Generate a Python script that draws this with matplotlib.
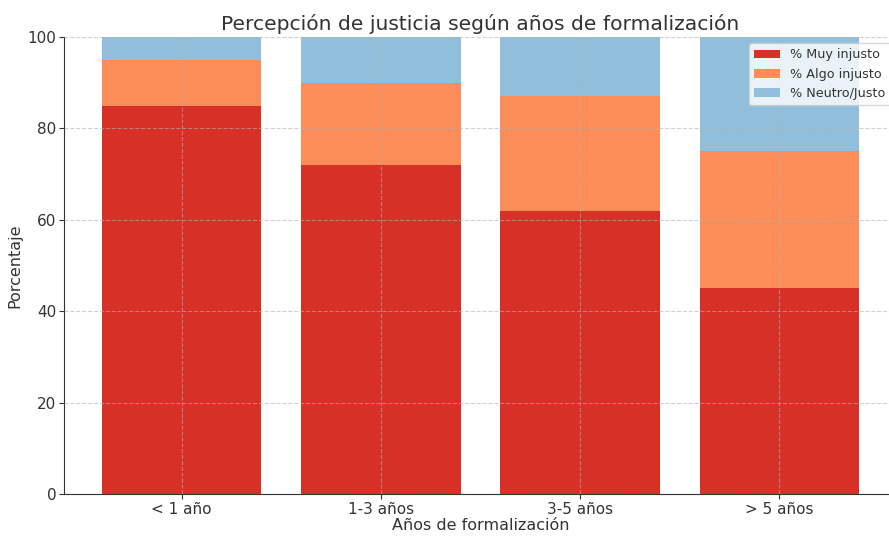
import numpy as np
import matplotlib.pyplot as plt

plt.rcParams['font.family'] = 'DejaVu Sans'

categories = ['< 1 año', '1-3 años', '3-5 años', '> 5 años']
muy_injusto = [85, 72, 62, 45]
algo_injusto = [10, 18, 25, 30]
neutro_justo = [5, 10, 13, 25]

COLORS = ['#d73027', '#fc8d59', '#91bfdb']
TEXT = '#333333'

fig = plt.figure(figsize=(8.89, 5.36), dpi=100)
ax = fig.add_axes([0.072, 0.078, 0.937, 0.853])

x = np.arange(len(categories))
bottom2 = np.array(muy_injusto)
bottom3 = bottom2 + np.array(algo_injusto)
ax.bar(x, muy_injusto, width=0.8, color=COLORS[0], label='% Muy injusto')
ax.bar(x, algo_injusto, width=0.8, bottom=bottom2, color=COLORS[1], label='% Algo injusto')
ax.bar(x, neutro_justo, width=0.8, bottom=bottom3, color=COLORS[2], label='% Neutro/Justo')

ax.set_xticks(x)
ax.set_xticklabels(categories)
ax.set_ylim(0, 100)
ax.set_xlim(-0.59, 3.59)

ax.grid(True, linestyle='--', color='#b0b0b0', alpha=0.6, linewidth=0.8)
ax.set_axisbelow(False)

for s in ['top', 'right']:
    ax.spines[s].set_visible(False)
for s in ['left', 'bottom']:
    ax.spines[s].set_color(TEXT)
ax.tick_params(colors=TEXT, labelsize=11, length=3.5, pad=2)

ax.set_title('Percepción de justicia según años de formalización', fontsize=14.6, color=TEXT, pad=5)
ax.set_xlabel('Años de formalización', fontsize=11.5, color=TEXT, labelpad=1)
ax.set_ylabel('Porcentaje', fontsize=11.5, color=TEXT, labelpad=4)

leg = ax.legend(loc='upper right', fontsize=9.2, framealpha=0.8)
for t in leg.get_texts():
    t.set_color(TEXT)

fig.savefig('out.png', dpi=100, facecolor='white')
